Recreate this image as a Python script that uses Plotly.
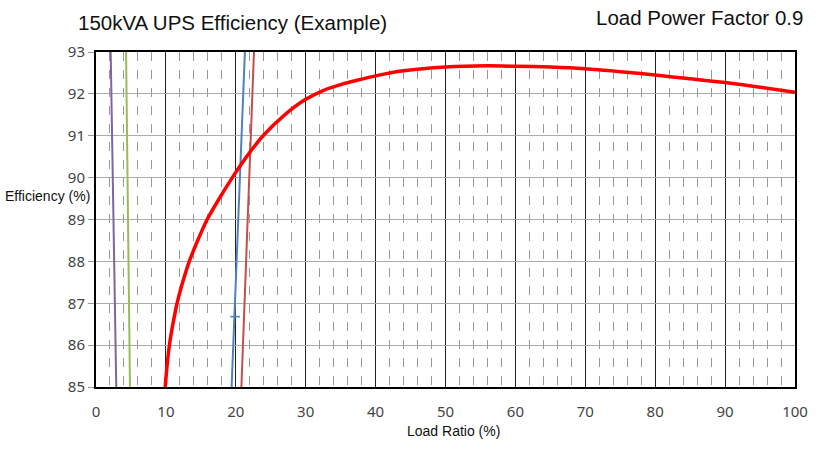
import plotly.graph_objects as go

# Main efficiency curve (Load ratio %, efficiency %)
eff_x = [9.9, 10.15, 10.5, 11.0, 11.6, 12.4, 13.35, 14.5, 15.9, 17.6, 19.5, 21.5, 23.9, 27.0, 30.0, 32.5, 35.0, 37.5, 40.0, 44.0, 50.0, 56.0, 60.0, 65.0, 70.0, 75.0, 80.0, 85.0, 90.0, 95.0, 100.0]
eff_y = [85.0, 85.48, 86.0, 86.5, 87.0, 87.5, 88.0, 88.48, 89.0, 89.49, 90.0, 90.49, 91.0, 91.5, 91.87, 92.08, 92.22, 92.33, 92.43, 92.55, 92.64, 92.67, 92.66, 92.64, 92.6, 92.53, 92.45, 92.36, 92.27, 92.16, 92.04]

# Reference lines
purple_x = [2.1, 2.9]
purple_y = [93.0, 85.0]
green_x = [4.3, 4.86]
green_y = [93.0, 85.0]
blue_x = [21.3, 19.4]
blue_y = [93.0, 85.0]
blue_tick_x = [19.2, 20.6]
blue_tick_y = [86.68, 86.68]
brown_x = [22.6, 20.8]
brown_y = [93.0, 85.0]

x_ticks = [0, 10, 20, 30, 40, 50, 60, 70, 80, 90, 100]
y_ticks = [85, 86, 87, 88, 89, 90, 91, 92, 93]

fig = go.Figure()
fig.add_trace(go.Scatter(x=purple_x, y=purple_y, mode="lines", line=dict(color="#8064a2", width=2), hoverinfo="skip"))
fig.add_trace(go.Scatter(x=green_x, y=green_y, mode="lines", line=dict(color="#9bbb59", width=2), hoverinfo="skip"))
fig.add_trace(go.Scatter(x=blue_x, y=blue_y, mode="lines", line=dict(color="#4f81bd", width=2), hoverinfo="skip"))
fig.add_trace(go.Scatter(x=blue_tick_x, y=blue_tick_y, mode="lines", line=dict(color="#4f81bd", width=1.5), hoverinfo="skip"))
fig.add_trace(go.Scatter(x=brown_x, y=brown_y, mode="lines", line=dict(color="#c0504d", width=2), hoverinfo="skip"))
fig.add_trace(go.Scatter(x=eff_x, y=eff_y, mode="lines", line=dict(color="#ff0000", width=3.5, shape="spline", smoothing=0.6), hoverinfo="skip"))

tickfont = dict(family="Noto Sans, Liberation Sans, sans-serif", size=15, color="#444444")
textfont = "Liberation Sans, Arial, sans-serif"

fig.update_layout(
    width=827, height=475,
    margin=dict(l=96, r=32, t=52, b=88),
    paper_bgcolor="white", plot_bgcolor="white",
    showlegend=False,
    xaxis=dict(
        range=[0, 100], tickvals=x_ticks, ticktext=[str(v) for v in x_ticks],
        showgrid=True, gridcolor="#222222", gridwidth=1,
        minor=dict(dtick=2, showgrid=True, gridcolor="#999999", griddash="dash", gridwidth=1),
        showline=True, linecolor="black", linewidth=2, mirror=True,
        ticks="", tickfont=tickfont, zeroline=False, ticklabelstandoff=10,
    ),
    yaxis=dict(
        range=[85, 93], tickvals=y_ticks, ticktext=[str(v) for v in y_ticks],
        showgrid=True, gridcolor="#aaaaaa", gridwidth=1,
        showline=True, linecolor="black", linewidth=2, mirror=True,
        ticks="outside", ticklen=6, tickcolor="#999999",
        tickfont=tickfont, zeroline=False,
    ),
    annotations=[
        dict(text="150kVA UPS Efficiency (Example)", xref="paper", yref="paper", x=0, xshift=-20, y=1.0, yshift=30,
             xanchor="left", yanchor="middle", showarrow=False,
             font=dict(family=textfont, size=20.5, color="#111111")),
        dict(text="Load Power Factor 0.9", xref="paper", yref="paper", x=1.0, xshift=10, y=1.0, yshift=35,
             xanchor="right", yanchor="middle", showarrow=False,
             font=dict(family=textfont, size=20.5, color="#111111")),
        dict(text="Efficiency (%)", xref="paper", yref="y", x=0, xshift=-4, y=89.56,
             xanchor="right", yanchor="middle", showarrow=False,
             font=dict(family=textfont, size=14, color="#111111")),
        dict(text="Load Ratio (%)", xref="x", yref="paper", x=51.1, y=0, yshift=-44,
             xanchor="center", yanchor="middle", showarrow=False,
             font=dict(family=textfont, size=14, color="#111111")),
    ],
)

fig.write_html("out.html")
